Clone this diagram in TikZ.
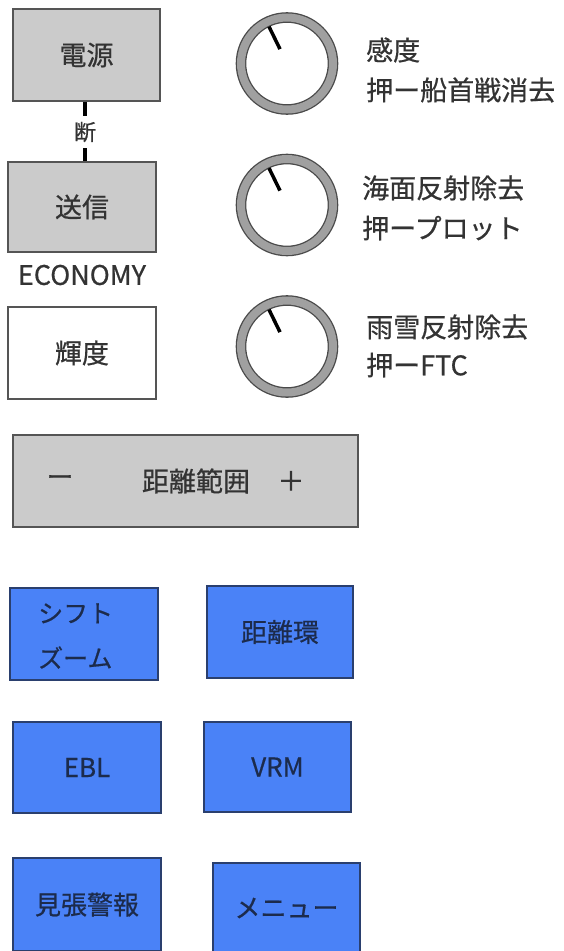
\documentclass[tikz,border=0pt]{standalone}
\usepackage{fontspec}
\setmainfont{Noto Sans CJK JP}[FakeBold=0.6]
\definecolor{boxgray}{HTML}{CBCBCB}
\definecolor{edgegray}{HTML}{555555}
\definecolor{txtgray}{HTML}{333333}
\definecolor{btnblue}{HTML}{4A82F7}
\definecolor{btnedge}{HTML}{2A3F6E}
\definecolor{btntxt}{HTML}{1C2B4C}
\definecolor{ringgray}{HTML}{A0A0A0}
\definecolor{ringedge}{HTML}{4A4A4A}
\begin{document}
\begin{tikzpicture}[x=1pt,y=1pt,
  lbl/.style={font=\fontsize{27}{32}\selectfont, text=txtgray, inner sep=0pt},
  graybox/.style={draw=edgegray, line width=1.5pt, fill=boxgray, inner sep=0pt,
    font=\fontsize{27}{32}\selectfont, text=txtgray},
  whitebox/.style={graybox, fill=white},
  bluebox/.style={draw=btnedge, line width=1.3pt, fill=btnblue, inner sep=0pt,
    font=\fontsize{26}{30}\selectfont, text=btntxt},
  dial/.style={circle, minimum size=92pt, inner sep=0pt, draw=ringedge, line width=1.3pt,
    double=ringgray, double distance=8pt},
  needle/.style={line width=3.5pt, line cap=butt, black},
  sidetxt/.style={lbl, anchor=west}
]
\useasboundingbox (0,0) rectangle (563,-951);
\fill[white] (0,0) rectangle (563,-951);

% left column
\node[graybox, minimum width=147pt, minimum height=92pt] (power) at (86.5,-55) {電源};
\node[font=\fontsize{22}{26}\selectfont, text=txtgray, inner sep=0pt, outer ysep=6pt] (cut) at (85,-132) {断};
\node[graybox, minimum width=148pt, minimum height=90pt] (tx) at (82,-207) {送信};
\draw[line width=4pt, black] (power.south -| cut) -- (cut.north);
\draw[line width=4pt, black] (cut.south) -- (tx.north -| cut);
\node[lbl] (eco) at (82,-275) {ECONOMY};
\node[whitebox, minimum width=148pt, minimum height=92pt] (bright) at (82,-353) {輝度};

% dials
\node[dial] (d1) at (287,-63.5) {};
\draw[needle] ([shift={(116:16)}]d1.center) -- ([shift={(116:41)}]d1.center);
\node[sidetxt] (t1a) at (366,-50) {感度};
\node[sidetxt] (t1b) at (366,-90) {押ー船首戦消去};

\node[dial] (d2) at (287,-205) {};
\draw[needle] ([shift={(116:16)}]d2.center) -- ([shift={(116:41)}]d2.center);
\node[sidetxt] (t2a) at (362,-188) {海面反射除去};
\node[sidetxt] (t2b) at (362,-228) {押ープロット};

\node[dial] (d3) at (287,-346.5) {};
\draw[needle] ([shift={(116:16)}]d3.center) -- ([shift={(116:41)}]d3.center);
\node[sidetxt] (t3a) at (366,-327) {雨雪反射除去};
\node[sidetxt] (t3b) at (366,-365) {押ーFTC};

% range box
\node[graybox, minimum width=345pt, minimum height=92pt] (range) at (185.5,-481) {};
\node[lbl] (minus) at (60,-481) {ー};
\node[lbl] (rangetxt) at (196,-481) {距離範囲};
\node[lbl] (plus) at (291,-481) {＋};

% blue buttons
\node[bluebox, minimum width=148pt, minimum height=92pt] (shift) at (84,-634) {};
\node[font=\fontsize{25}{45}\selectfont, text=btntxt, inner sep=0pt, align=left, anchor=west] (shifttxt) at (38,-636) {シフト\\ズーム};
\node[bluebox, minimum width=146pt, minimum height=92pt] (ring) at (280,-632) {距離環};
\node[bluebox, minimum width=148pt, minimum height=91pt] (ebl) at (87,-767.5) {EBL};
\node[bluebox, minimum width=147pt, minimum height=90pt] (vrm) at (277.5,-767) {VRM};
\node[bluebox, minimum width=148pt, minimum height=93pt] (watch) at (87,-904.5) {見張警報};
\node[bluebox, minimum width=147pt, minimum height=90pt] (menu) at (286.5,-908) {メニュー};
\end{tikzpicture}
\end{document}
